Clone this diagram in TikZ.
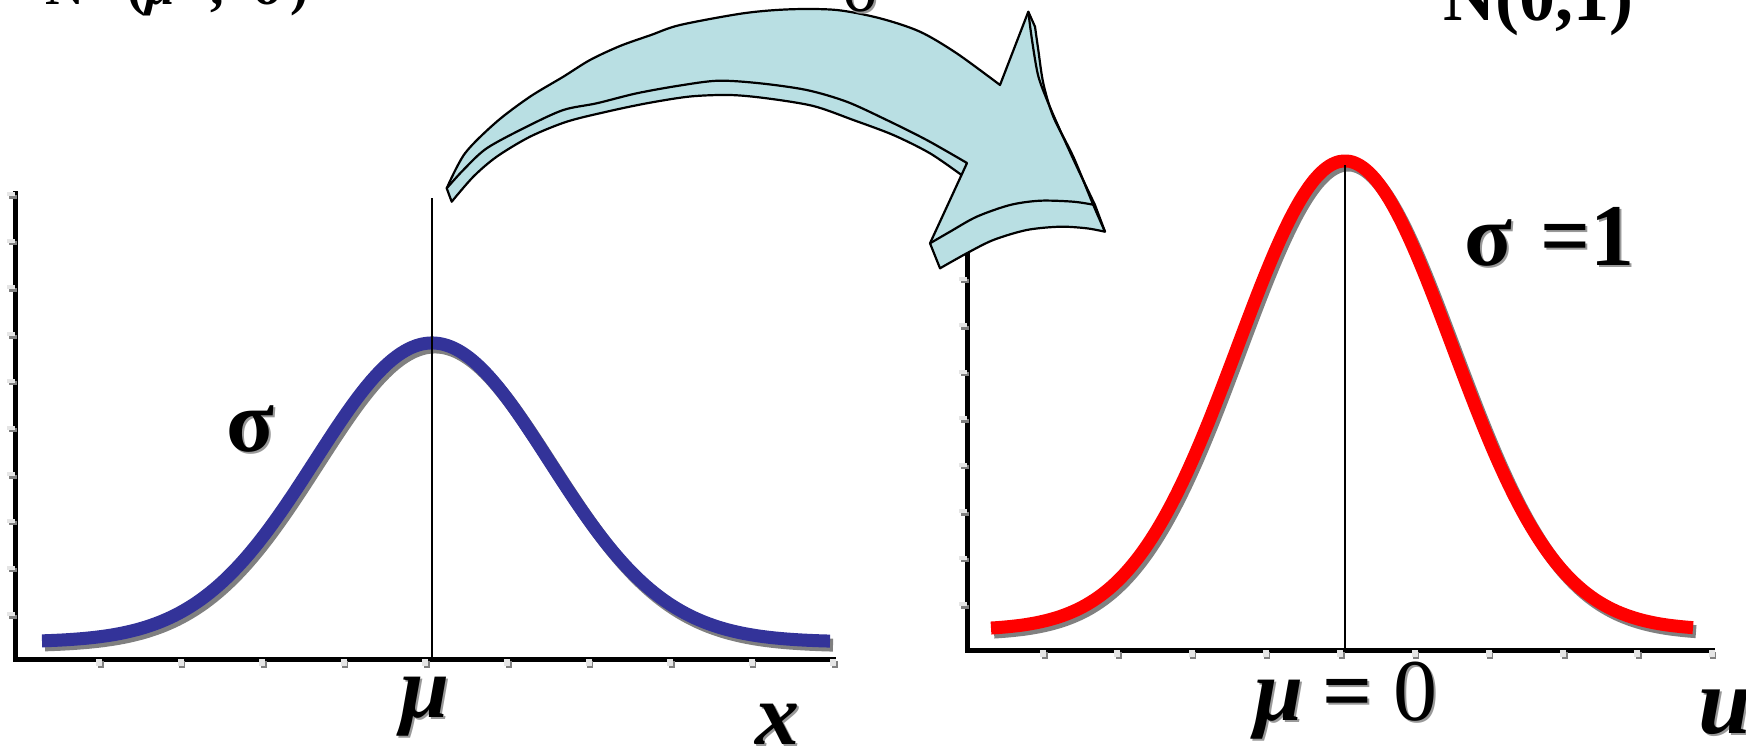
\documentclass[tikz,border=0pt]{standalone}
\usepackage{fontspec}
\setmainfont{Liberation Serif}
\definecolor{arrowfill}{RGB}{185,223,227}
\definecolor{curveblue}{RGB}{51,51,153}
\definecolor{shadowgray}{RGB}{128,128,128}
\newcommand{\bigfont}{\fontsize{88}{90}\selectfont}
\begin{document}
\begin{tikzpicture}[x=1pt,y=-1pt,
  lbl/.style={inner sep=0pt, anchor=base west},
  shd/.style={lbl, text=black!40, xshift=2.5pt, yshift=-2.5pt},
  axisline/.style={line width=5pt, line cap=rect},
  axisshadow/.style={line width=5pt, draw=shadowgray, xshift=2.5pt, yshift=-2.5pt},
  tickbox/.style={fill=black!10},
  tickshadow/.style={fill=black!50},
  muline/.style={line width=2.5pt},
  bluecurve/.style={line width=13pt, draw=curveblue},
  redcurve/.style={line width=13pt, draw=red},
  curveshadow/.style={line width=13pt, draw=shadowgray, xshift=3pt, yshift=-4pt},
  arrowedge/.style={line width=2.2pt, line join=round}]
\useasboundingbox (0,0) rectangle (1746,748);

% ---------- left axes ----------
\coordinate (LT) at (15,193);
\coordinate (LO) at (15,659);
\coordinate (LR) at (833,659);
\draw[axisshadow] (LT) -- (LO) -- (LR);
\draw[axisline] (LT) -- (LO) -- (LR);
\foreach \yy in {0,...,9}{
  \fill[tickshadow] (9,{193+46.7*\yy+1.5}) rectangle (17,{193+46.7*\yy+5.5});
  \fill[tickbox] (7,{193+46.7*\yy-1}) rectangle (15,{193+46.7*\yy+3});
}
\foreach \xx in {0,...,9}{
  \fill[tickshadow] ({99+81.6*\xx-1.5},661) rectangle ({99+81.6*\xx+4.5},668);
  \fill[tickbox] ({99+81.6*\xx-3},659) rectangle ({99+81.6*\xx+3},665.5);
}

% ---------- right axes ----------
\coordinate (RT) at (967,190);
\coordinate (RO) at (967,650);
\coordinate (RR) at (1712,650);
\draw[axisshadow] (RT) -- (RO) -- (RR);
\draw[axisline] (RT) -- (RO) -- (RR);
\foreach \yy in {0,...,9}{
  \fill[tickshadow] (961,{603-46.5*\yy+1.5}) rectangle (969,{603-46.5*\yy+5.5});
  \fill[tickbox] (959,{603-46.5*\yy-1}) rectangle (967,{603-46.5*\yy+3});
}
\foreach \xx in {0,...,9}{
  \fill[tickshadow] ({1043+74.3*\xx-1.5},652) rectangle ({1043+74.3*\xx+4.5},659);
  \fill[tickbox] ({1043+74.3*\xx-3},650) rectangle ({1043+74.3*\xx+3},656.5);
}

% ---------- curves ----------
\draw[curveshadow] plot[domain=42:830,samples=140,smooth] (\x,{642-299*exp(-0.5*((\x-432)/117)^2)});
\draw[bluecurve] plot[domain=42:830,samples=140,smooth] (\x,{642-299*exp(-0.5*((\x-432)/117)^2)});
\draw[curveshadow] plot[domain=991:1693,samples=140,smooth] (\x,{630-469*exp(-0.5*((\x-1345)/107)^2)});
\draw[redcurve] plot[domain=991:1693,samples=140,smooth] (\x,{630-469*exp(-0.5*((\x-1345)/107)^2)});

% ---------- mean lines ----------
\coordinate (MLtop) at (432,198);
\coordinate (MLbot) at (432,659);
\coordinate (MRtop) at (1345,165);
\coordinate (MRbot) at (1345,650);
\draw[muline] (MLtop) -- (MLbot);
\draw[muline] (MRtop) -- (MRbot);

% ---------- 3D arrow ----------
\filldraw[fill=arrowfill, arrowedge]
  plot[smooth,tension=0.5] coordinates {(446.7,188.3) (465,153.3) (496.7,121.7) (530,96.7) (563.3,76.7) (590,60) (620,46) (651,35) (680,25) (743.3,13.3) (790,9.3) (836.7,10) (880,18.3) (920,31.7) (956.7,53.3) (1000,85)}
  -- (1028.3,11.7) -- (1035,26.7)
  -- plot[smooth,tension=0.5] coordinates {(1035,26.7) (1038.3,50) (1043.3,83.3) (1053.3,116.7) (1073.3,156.7) (1093.3,205) (1105,231.7)}
  -- plot[smooth,tension=0.5] coordinates {(1105,231.7) (1086.7,228.3) (1060,226.7) (1026.7,230) (993.3,240) (966.7,253.3) (940,268.3)}
  -- (930,243.3) -- (961.5,175)
  -- plot[smooth,tension=0.5] coordinates {(961.5,175) (930,153.3) (893.3,135) (853.3,120) (813.3,106) (766.7,98.3) (730,95) (690,96.5) (646.7,103.3) (606.7,111.7) (566.7,121.7) (530,136.7) (496.7,156.7) (473.3,176.7) (451.7,201.7)}
  -- cycle;
% front face edges
\draw[arrowedge] plot[smooth,tension=0.5] coordinates {(446.7,188.3) (463.3,170) (486.7,148.3) (526.7,126.7) (563.3,110) (596.7,103.3) (636.7,93.3) (680,85.5) (718.3,80.7) (760,83.3) (806.7,90) (846.7,101.7) (886.7,120) (926.7,140) (967,163)} -- (961.5,175);
\draw[arrowedge] plot[smooth,tension=0.5] coordinates {(930,243.3) (950,231.7) (976.7,216.7) (1010,205) (1040,200.7) (1073.3,201.7) (1095,205)} -- (1105,231.7);
\draw[arrowedge] plot[smooth,tension=0.5] coordinates {(1028.3,11.7) (1032,40) (1038,75) (1047,100) (1060,130) (1076,165) (1095,205)};

% ---------- labels ----------
% top left  N (mu , sigma)
\begin{scope}[every node/.style={lbl}, font=\fontsize{54}{56}\selectfont\bfseries]
\node (tlN) at (45,4) {N};
\node (tlL) at (127,4) {(};
\node (tlmu) at (145,4) {\itshape μ};
\node (tlc) at (210,4) {,};
\node (tls) at (253,4) {σ};
\node (tlR) at (290,4) {)};
\end{scope}
% top right N(0,1)
\node[lbl, font=\fontsize{72}{74}\selectfont\bfseries] (trN) at (1443,20) {N(0,1)};
% top middle sigma (denominator, mostly cut off)
\node[shd, font=\fontsize{67}{69}\selectfont] (tmS2) at (843,11) {σ};
\node[lbl, font=\fontsize{67}{69}\selectfont] (tmS) at (843,11) {σ};
% sigma beside blue curve
\node[shd, font=\bigfont\bfseries] (sgL2) at (226,451) {σ};
\node[lbl, font=\bigfont\bfseries] (sgL) at (226,451) {σ};
% sigma = 1
\node[shd, font=\bigfont\bfseries] (sgR2) at (1464,265) {σ};
\node[lbl, font=\bigfont\bfseries] (sgR) at (1464,265) {σ};
\node[shd, font=\bigfont\bfseries] (eq12) at (1540,265) {=1};
\node[lbl, font=\bigfont\bfseries] (eq1) at (1540,265) {=1};
% axis labels left
\node[shd, font=\bigfont\bfseries\itshape] (muL2) at (400,717) {μ};
\node[lbl, font=\bigfont\bfseries\itshape] (muL) at (400,717) {μ};
\node[shd, font=\bigfont\bfseries\itshape] (xL2) at (755,744) {x};
\node[lbl, font=\bigfont\bfseries\itshape] (xL) at (755,744) {x};
% axis labels right
\node[shd, font=\bigfont\bfseries\itshape] (muR2) at (1254,720) {μ};
\node[lbl, font=\bigfont\bfseries\itshape] (muR) at (1254,720) {μ};
\node[shd, font=\bigfont\bfseries] (eqR2) at (1322,720) {=};
\node[lbl, font=\bigfont\bfseries] (eqR) at (1322,720) {=};
\node[shd, font=\bigfont] (zR2) at (1393,720) {0};
\node[lbl, font=\bigfont] (zR) at (1393,720) {0};
\node[shd, font=\fontsize{95}{97}\selectfont\bfseries\itshape] (uR2) at (1698,733) {u};
\node[lbl, font=\fontsize{95}{97}\selectfont\bfseries\itshape] (uR) at (1698,733) {u};
\end{tikzpicture}
\end{document}
